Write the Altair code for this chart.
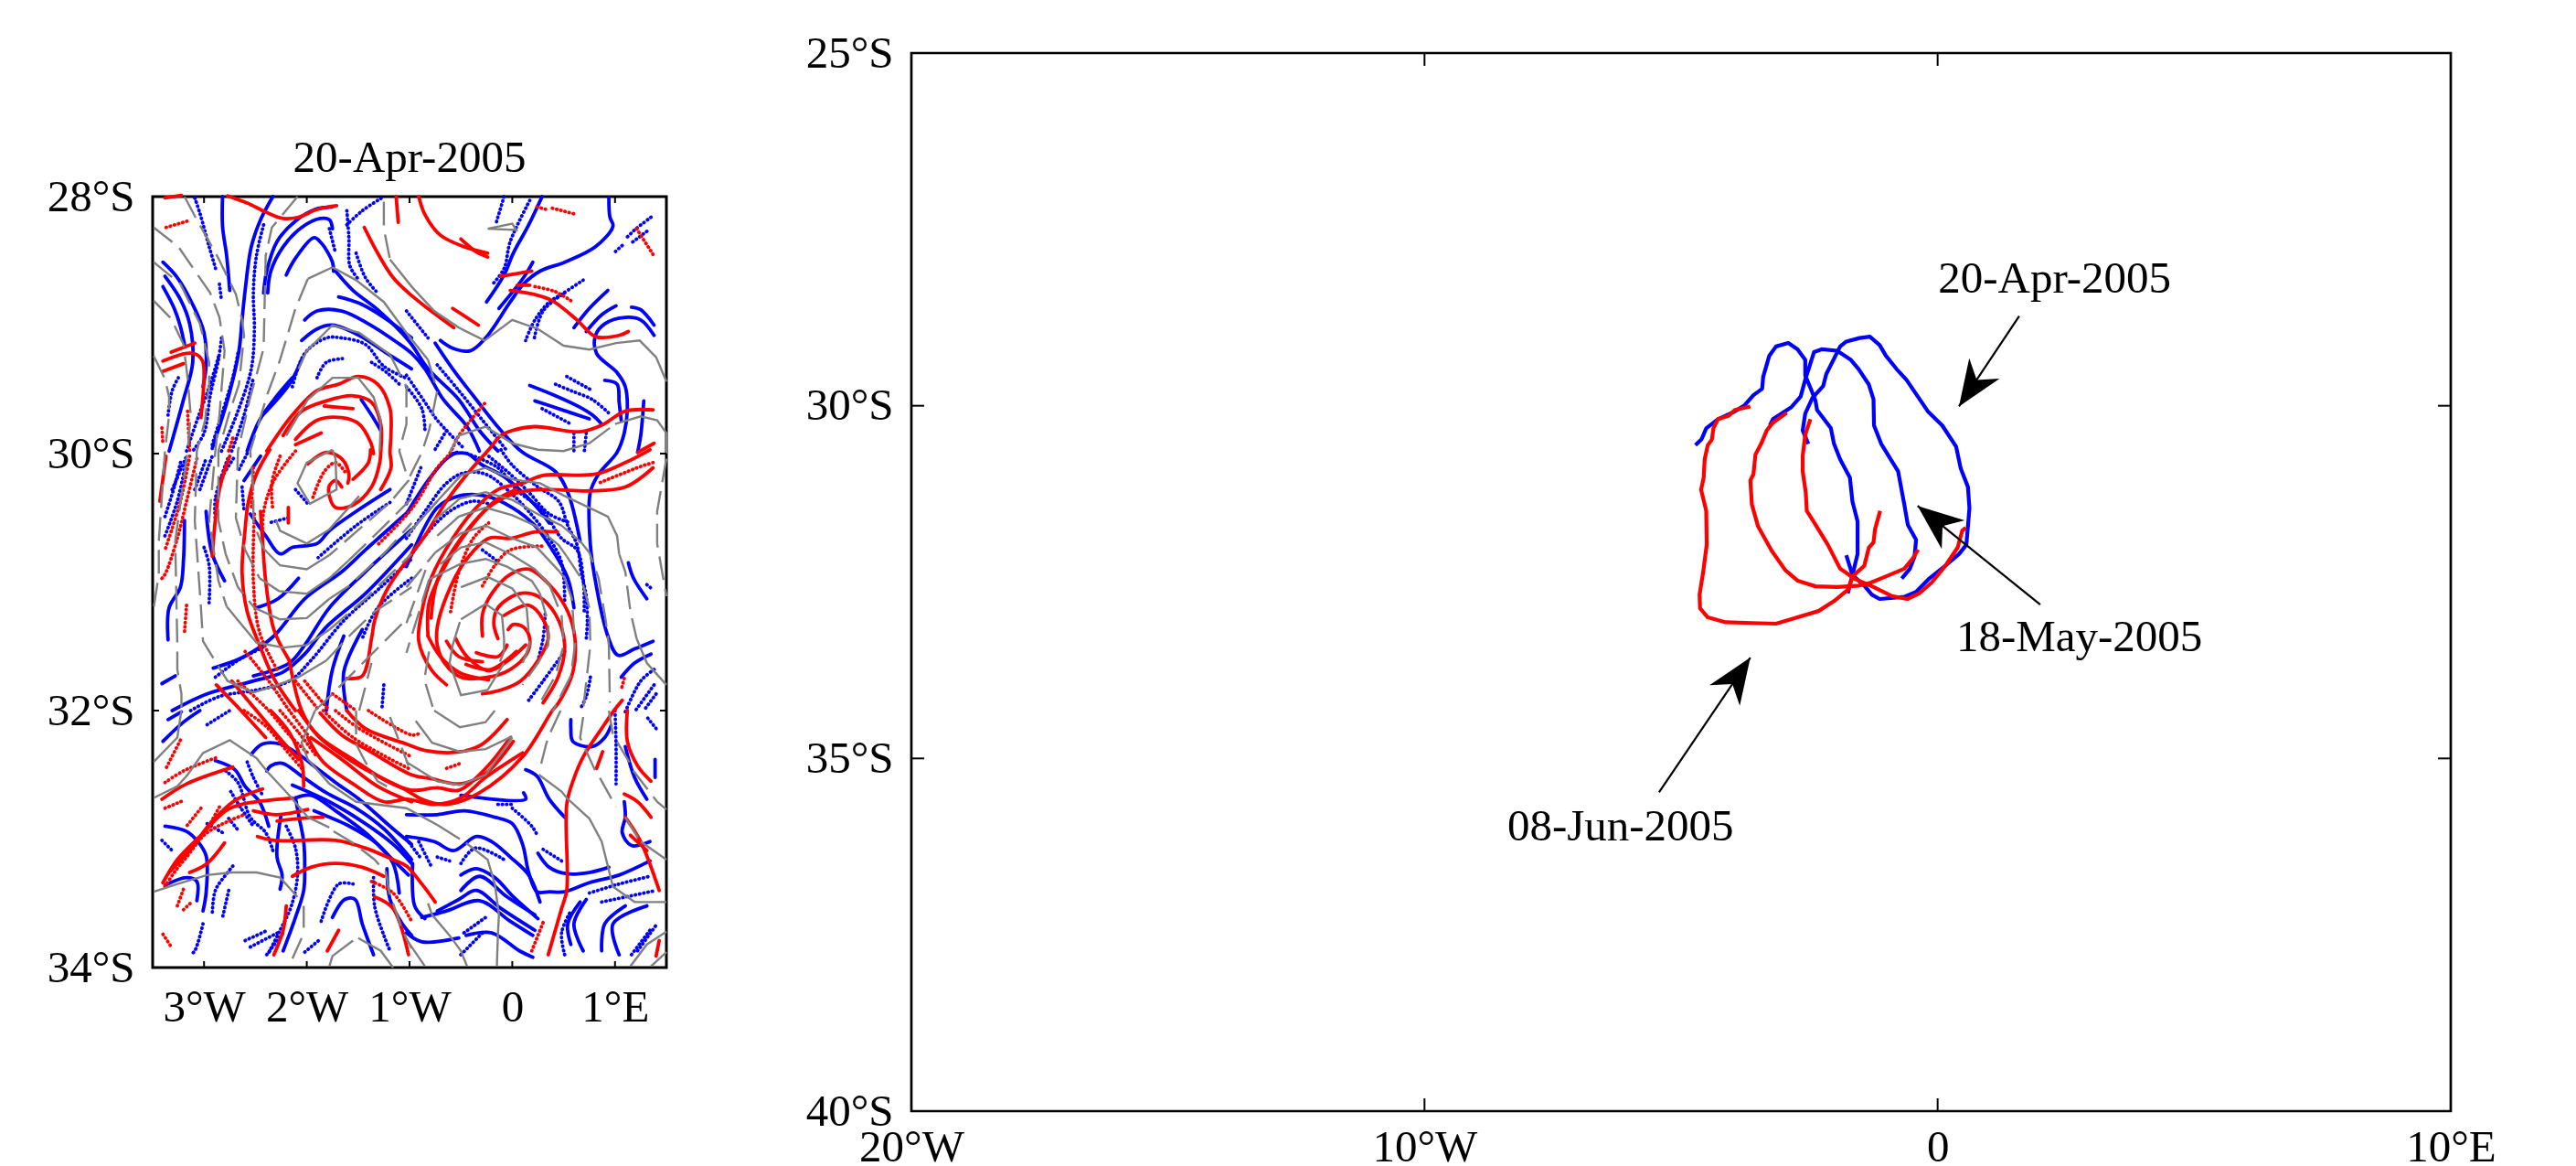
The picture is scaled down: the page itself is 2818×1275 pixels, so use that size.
import altair as alt
import pandas as pd

FONT = "Liberation Serif"
SIZE = 49

# ---------- left panel: streamlines and contours (lon, lat, lon, lat, ...) ----------
blue_solid = [
 [-2.82,-28.00,-2.82,-28.23,-2.78,-28.46,-2.75,-28.73],
 [-2.33,-28.00,-2.45,-28.18,-2.54,-28.39,-2.60,-28.73,-2.63,-28.96,-2.66,-29.20,-2.76,-29.55,-2.92,-29.96],
 [-1.75,-28.08,-1.92,-28.10,-2.11,-28.19,-2.29,-28.35,-2.39,-28.58,-2.42,-28.75],
 [-1.75,-28.25,-1.78,-28.18,-1.87,-28.17,-2.05,-28.24,-2.23,-28.39,-2.35,-28.58,-2.38,-28.75],
 [-2.20,-28.61,-2.11,-28.48,-1.93,-28.32,-1.86,-28.36,-1.75,-28.51,-1.74,-28.58],
 [-1.72,-28.58,-1.55,-28.73,-1.31,-28.88,-1.0,-29.13,-0.82,-29.34,-0.52,-29.58,-0.32,-29.82,-0.14,-29.98],
 [-1.69,-28.78,-1.49,-28.83,-1.25,-28.94,-0.98,-29.10],
 [-2.02,-28.96,-1.90,-28.89,-1.66,-28.89,-1.40,-28.99,-1.13,-29.13,-0.98,-29.22,-0.85,-29.34,-0.67,-29.58,-0.44,-29.79,-0.32,-29.98],
 [-2.05,-29.12,-1.90,-29.03,-1.75,-29.00,-1.49,-29.08,-1.22,-29.22,-0.98,-29.34],
 [-2.43,-29.70,-2.17,-29.46,-2.05,-29.27],
 [-2.58,-29.98,-2.46,-29.74,-2.29,-29.55,-2.14,-29.41],
 [-1.47,-29.58,-1.37,-29.70,-1.28,-29.82],
 [-3.40,-28.51,-3.26,-28.63,-3.11,-28.84,-3.0,-29.06,-2.98,-29.32,-3.01,-29.48],
 [-3.38,-28.62,-3.23,-28.80,-3.14,-28.99,-3.11,-29.29,-3.20,-29.58,-3.29,-29.84,-3.34,-29.98],
 [-3.40,-28.70,-3.29,-28.87,-3.23,-29.01,-3.19,-29.15],
 [0.29,-28.00,0.16,-28.22,0.01,-28.44,-0.08,-28.61,-0.25,-28.82],
 [0.20,-28.51,0.11,-28.63,-0.13,-28.87],
 [0.94,-28.01,0.95,-28.16,0.98,-28.23,0.81,-28.39,0.51,-28.51,0.27,-28.58,0.11,-28.68,-0.02,-28.82,-0.26,-29.10,-0.41,-29.20,-0.58,-29.18,-0.70,-29.12],
 [1.38,-29.08,1.25,-28.96,1.10,-28.94,0.90,-28.99,0.81,-29.08,0.82,-29.22,1.02,-29.37,1.10,-29.48,1.12,-29.65,1.09,-29.84,1.02,-29.99,0.84,-30.16,0.76,-30.30,0.76,-30.71,0.82,-31.04,0.93,-31.42,1.03,-31.57,1.19,-31.52,1.37,-31.46],
 [0.93,-28.73,0.75,-28.87,0.60,-29.02],
 [1.01,-28.85,0.87,-28.92,0.72,-29.05],
 [1.38,-29.00,1.25,-28.88,1.16,-28.86],
 [0.90,-29.43,1.02,-29.46,1.04,-29.60,1.06,-29.74],
 [0.17,-29.47,0.42,-29.55,0.66,-29.64,0.78,-29.70,0.87,-29.77],
 [0.22,-29.59,0.45,-29.65,0.75,-29.73],
 [1.28,-29.59,1.25,-29.86,1.22,-29.99],
 [-0.75,-29.14,-0.58,-29.34,-0.35,-29.58,-0.11,-29.82,0.10,-29.99,0.42,-30.14,0.54,-30.30,0.66,-30.68],
 [-0.58,-30.0,-0.44,-30.0,-0.29,-30.09,-0.08,-30.18,0.22,-30.40,0.36,-30.54],
 [-1.03,-30.47,-0.82,-30.21,-0.64,-30.04,-0.54,-29.99],
 [-1.03,-30.88,-0.73,-30.42,-0.52,-30.33,-0.26,-30.33,0,-30.42,0.22,-30.56,0.39,-30.75,0.54,-30.97,0.60,-31.20],
 [1.13,-30.85,1.18,-30.97,1.31,-31.13],
 [1.35,-31.56,1.19,-31.63,1.06,-31.74],
 [-3.19,-30.52,-3.20,-30.83,-3.23,-31.04,-3.34,-31.20,-3.35,-31.45],
 [-2.98,-30.45,-2.92,-30.78,-2.80,-30.99],
 [-2.45,-30.02,-2.61,-30.21],
 [-2.55,-30.47,-2.40,-30.64,-2.26,-30.78,-2.14,-30.73,-1.90,-30.70,-1.78,-30.60,-1.52,-30.45,-1.19,-30.28],
 [-2.49,-31.20,-2.28,-31.13,-2.08,-30.97],
 [-3.41,-31.79,-3.28,-31.73],
 [-2.91,-31.67,-2.61,-31.58,-2.32,-31.42,-2.02,-31.13,-1.66,-30.92,-1.43,-30.75,-1.01,-30.45],
 [-2.52,-31.73,-2.17,-31.63,-2.02,-31.49,-1.78,-31.20,-1.43,-30.92,-0.98,-30.59],
 [-3.31,-32.0,-2.97,-31.87,-2.52,-31.77,-2.23,-31.70,-2.02,-31.56,-1.81,-31.35,-1.43,-31.09,-0.98,-30.71],
 [-1.64,-31.42,-1.75,-31.68,-1.81,-32.0],
 [-1.46,-31.37,-1.64,-31.70,-1.61,-32.0],
 [-3.40,-32.24,-3.20,-32.09,-3.04,-32.0],
 [-3.35,-32.07,-3.22,-32.01],
 [-2.54,-32.34,-2.43,-32.26,-2.26,-32.26,-2.08,-32.34,-1.90,-32.45,-1.72,-32.56,-1.49,-32.69,-1.19,-32.90,-0.98,-33.04],
 [-2.39,-32.47,-2.35,-32.43,-2.24,-32.41,-2.05,-32.51,-1.81,-32.64,-1.52,-32.76,-1.25,-32.92,-0.98,-33.16],
 [-2.14,-32.58,-1.78,-32.71,-1.43,-32.88,-1.16,-33.04,-0.98,-33.19],
 [-2.11,-32.68,-1.96,-32.66,-1.72,-32.78,-1.43,-32.95,-1.19,-33.14,-1.01,-33.28],
 [-1.93,-32.78,-1.78,-32.83,-1.61,-32.89,-1.31,-33.04,-1.16,-33.19,-1.10,-33.42],
 [-2.11,-32.68,-2.08,-32.81,-2.03,-33.02,-2.02,-33.23,-2.03,-33.40,-2.11,-33.61,-2.23,-33.87],
 [-2.25,-32.81,-2.29,-33.14,-2.24,-33.28,-2.26,-33.39],
 [-2.89,-32.39,-2.70,-32.46,-2.60,-32.59,-2.46,-32.71,-2.37,-32.90],
 [-3.38,-32.90,-3.17,-32.94,-3.06,-33.02,-2.98,-33.13,-2.98,-33.42,-3.01,-33.56],
 [-3.38,-33.36,-3.17,-33.30,-3.07,-33.33,-3.07,-33.48],
 [-1.75,-33.61,-1.63,-33.47,-1.53,-33.47,-1.46,-33.66,-1.35,-33.90],
 [-1.22,-33.23,-1.19,-33.47,-1.07,-33.66,-0.98,-33.75],
 [-1.03,-32.98,-0.76,-33.02,-0.57,-33.09,-0.35,-32.98,-0.20,-33.02,-0.02,-33.14,0.16,-33.28,0.27,-33.49],
 [-1.03,-32.81,-0.73,-32.81,-0.47,-32.78,-0.17,-32.83,0.0,-32.88,0.10,-33.04,0.16,-33.26,0.24,-33.41,0.36,-33.41,0.51,-33.41,0.75,-33.34,1.04,-33.28,1.34,-33.17],
 [0.13,-32.46,0.24,-32.51,0.36,-32.69,0.51,-32.83],
 [0.25,-33.11,0.36,-33.22,0.53,-33.27,0.75,-33.26,0.94,-33.22],
 [-0.50,-32.66,0.13,-32.69,0.11,-32.64],
 [-0.50,-33.28,-0.35,-33.23,-0.17,-33.30,0.01,-33.45,0.25,-33.62],
 [-0.50,-33.40,-0.32,-33.29,-0.05,-33.45,0.22,-33.59],
 [-0.73,-33.56,-0.52,-33.47,-0.35,-33.40,-0.11,-33.54,0.22,-33.71],
 [-0.88,-33.61,-0.64,-33.56,-0.32,-33.48,-0.02,-33.64,0.20,-33.75],
 [-0.45,-33.75,-0.20,-33.73,0.07,-33.87,0.20,-33.92],
 [-0.97,-33.19,-0.95,-33.52,-0.85,-33.62],
 [-1.03,-33.73,-0.88,-33.80,-0.52,-33.77],
 [0.57,-33.82,0.54,-33.66,0.66,-33.49],
 [0.69,-33.87,0.60,-33.66,0.72,-33.47],
 [0.87,-33.87,0.90,-33.66,1.10,-33.52],
 [1.04,-33.90,0.98,-33.66,1.31,-33.52],
 [0.57,-32.07,0.57,-32.14,0.59,-32.24,0.78,-32.28,0.90,-32.21,0.96,-32.12],
 [1.10,-32.28,1.19,-32.52,1.31,-32.69],
 [1.39,-32.38,1.39,-32.52],
 [1.09,-32.71,1.10,-32.83,1.07,-32.95,1.16,-33.05,1.34,-33.02],
]
blue_dots = [
 [-3.09,-28.01,-3.04,-28.13,-2.95,-28.39,-2.88,-28.58],
 [-2.42,-28.22,-2.49,-28.46,-2.52,-28.75,-2.51,-29.03,-2.54,-29.34,-2.67,-29.67,-2.83,-29.98],
 [-1.78,-28.25,-1.72,-28.44],
 [-1.61,-28.11,-1.59,-28.32,-1.58,-28.54,-1.49,-28.65],
 [-1.52,-28.44,-1.43,-28.63,-1.31,-28.75],
 [-1.61,-28.22,-1.46,-28.11,-1.25,-28.00],
 [-2.14,-29.48,-2.02,-29.22,-1.81,-29.10,-1.66,-29.10,-1.43,-29.15,-1.25,-29.32,-1.04,-29.41],
 [-1.90,-29.41,-1.81,-29.29,-1.63,-29.26],
 [-1.37,-29.29,-1.22,-29.37,-1.10,-29.46],
 [-3.25,-29.41,-3.31,-29.51,-3.35,-29.70],
 [-2.83,-29.10,-2.86,-29.27,-2.94,-29.55,-3.0,-29.84,-3.11,-29.98],
 [-2.67,-29.22,-2.72,-29.41,-2.79,-29.60,-2.92,-29.93],
 [-3.17,-29.98,-3.05,-29.70,-2.94,-29.46,-2.85,-29.22],
 [-2.73,-29.98,-2.61,-29.70,-2.52,-29.41],
 [-2.85,-28.68,-2.83,-28.81],
 [-0.08,-28.00,-0.155,-28.20],
 [0.17,-28.03,-0.02,-28.35,-0.08,-28.56,-0.20,-28.69],
 [1.35,-28.16,1.19,-28.26,1.10,-28.33],
 [1.31,-28.27,1.16,-28.36],
 [1.07,-28.38,1.0,-28.43],
 [0.69,-28.65,0.48,-28.76,0.36,-28.82,0.22,-28.96,0.13,-29.12],
 [0.51,-28.75,0.30,-28.89,0.21,-29.12],
 [0.29,-29.65,0.57,-29.77],
 [0.42,-29.46,0.57,-29.51,0.78,-29.58,0.96,-29.70],
 [0.53,-29.40,0.78,-29.51],
 [0.60,-29.84,0.60,-29.99],
 [0.72,-29.84,0.70,-29.99],
 [-0.73,-29.31,-0.52,-29.51,-0.29,-29.74,-0.05,-29.98],
 [-1.03,-28.89,-0.82,-29.10],
 [-1.03,-29.39,-0.85,-29.60,-0.73,-29.74,-0.47,-29.96],
 [-1.03,-29.48,-0.88,-29.65,-0.85,-29.82],
 [-0.64,-29.82,-0.76,-29.98],
 [-0.11,-29.97,0.0,-30.09,0.25,-30.26,0.45,-30.37,0.54,-30.56,0.63,-30.71,0.67,-30.92,0.72,-31.11,0.73,-31.32,0.72,-31.44],
 [-0.26,-30.0,-0.02,-30.16,0.16,-30.30,0.36,-30.47,0.57,-30.54],
 [-0.44,-30.0,-0.14,-30.11,0.04,-30.28,0.30,-30.45,0.48,-30.66,0.63,-30.75,0.69,-30.97,0.70,-31.25],
 [-1.03,-30.39,-0.89,-30.11],
 [-1.03,-30.66,-0.85,-30.45,-0.64,-30.23,-0.47,-30.15,-0.26,-30.16,-0.05,-30.28,0.16,-30.45,0.36,-30.66,0.48,-30.85,0.51,-31.16],
 [-1.03,-30.85,-0.85,-30.64,-0.61,-30.45,-0.38,-30.37,-0.20,-30.40],
 [-0.29,-30.75,-0.14,-30.84],
 [0.32,-31.25,0.30,-31.44,0.25,-31.61],
 [0.76,-31.74,0.72,-31.89,0.66,-31.99],
 [1.31,-31.02,1.37,-31.06],
 [1.38,-31.68,1.25,-31.77,1.10,-32.01],
 [1.38,-31.80,1.19,-32.01],
 [1.40,-31.87,1.28,-32.0],
 [0.16,-31.92,0.30,-31.77,0.51,-31.54],
 [-3.38,-30.64,-3.26,-30.37,-3.17,-30.04],
 [-3.38,-30.49,-3.29,-30.26,-3.22,-30.04],
 [-3.04,-30.28,-2.92,-30.02],
 [-2.85,-30.21,-2.70,-30.02],
 [-2.58,-30.0,-2.67,-30.14],
 [-3.31,-30.28,-3.17,-30.02],
 [-3.09,-30.28,-2.98,-30.04],
 [-3.0,-30.73,-2.95,-30.87,-2.95,-31.16],
 [-2.77,-30.04,-2.89,-30.35,-2.89,-30.52],
 [-2.63,-30.26,-2.61,-30.45],
 [-2.18,-30.50,-2.37,-30.54],
 [-2.11,-30.28,-1.99,-30.39],
 [-1.89,-30.81,-1.52,-30.56,-1.19,-30.38],
 [-2.89,-31.74,-2.67,-31.61,-2.43,-31.51],
 [-3.13,-32.0,-2.85,-31.89,-2.49,-31.84,-2.17,-31.77,-1.96,-31.61,-1.64,-31.30,-1.28,-31.04,-0.98,-30.82],
 [-0.98,-30.97,-1.31,-31.20,-1.46,-31.44],
 [-1.25,-31.80,-1.27,-32.0],
 [-2.97,-32.11,-2.75,-32.0],
 [-2.20,-32.90,-2.11,-33.07,-2.09,-33.28,-2.15,-33.52,-2.26,-33.71,-2.38,-33.90],
 [-2.79,-32.47,-2.67,-32.56,-2.55,-32.83,-2.40,-32.95,-2.33,-33.09],
 [-2.58,-32.40,-2.52,-32.52,-2.43,-32.66],
 [-2.74,-32.63,-2.64,-32.76,-2.52,-32.90],
 [-2.76,-32.84,-2.66,-32.94],
 [-2.97,-32.88,-2.82,-32.95],
 [-3.41,-33.01,-3.31,-33.09],
 [-2.72,-33.21,-2.77,-33.26,-2.89,-33.40,-2.92,-33.59],
 [-2.76,-33.40,-2.82,-33.61],
 [-3.01,-33.66,-3.09,-33.87,-3.13,-33.90],
 [-2.60,-33.79,-2.38,-33.71],
 [-2.55,-33.84,-2.26,-33.72],
 [-2.39,-33.90,-2.23,-33.73],
 [-2.02,-33.88,-1.87,-33.78],
 [-1.86,-33.64,-1.69,-33.35,-1.55,-33.35],
 [-1.35,-33.30,-1.34,-33.52,-1.25,-33.75,-1.19,-33.87],
 [0.0,-32.76,0.19,-32.90,0.25,-32.98],
 [0.30,-33.08,0.48,-33.17],
 [-0.14,-32.73,0.0,-32.73],
 [-0.50,-33.19,-0.36,-33.07,-0.08,-33.16],
 [-0.47,-33.73,-0.26,-33.61],
 [-0.50,-33.90,-0.29,-33.73],
 [-0.91,-33.02,-0.79,-33.21],
 [-1.03,-33.0,-0.88,-33.16],
 [-0.73,-33.14,-0.61,-33.17],
 [0.51,-33.90,0.48,-33.73,0.57,-33.56],
 [0.75,-33.42,1.04,-33.35,1.34,-33.29],
 [0.87,-33.49,1.40,-33.40],
 [1.16,-33.90,1.34,-33.71],
 [1.22,-33.87,1.40,-33.67],
 [1.0,-32.0,1.01,-32.26,1.01,-32.57],
 [1.40,-32.14,1.31,-32.05],
]
red_solid = [
 [-3.38,-28.01,-3.22,-27.99],
 [-2.77,-27.995,-2.58,-28.05,-2.40,-28.12,-2.23,-28.17,-2.08,-28.16,-1.90,-28.10,-1.71,-28.07],
 [-1.13,-28.00,-1.11,-28.20],
 [-1.44,-28.24,-1.31,-28.44,-1.16,-28.63,-0.98,-28.77,-0.79,-28.89,-0.57,-29.02],
 [-3.32,-29.21,-3.09,-29.14],
 [-3.40,-29.28,-3.17,-29.22,-3.07,-29.23,-3.01,-29.29,-3.03,-29.72],
 [-3.40,-29.36,-3.20,-29.30],
 [-2.39,-29.98,-2.14,-29.70,-1.90,-29.51,-1.69,-29.46,-1.50,-29.40,-1.31,-29.46,-1.19,-29.65,-1.18,-29.84,-1.19,-29.99,-1.18,-30.11,-1.28,-30.28],
 [-2.23,-29.86,-2.05,-29.67,-1.81,-29.59,-1.55,-29.55,-1.37,-29.60,-1.28,-29.77,-1.28,-29.98],
 [-1.83,-29.63,-1.55,-29.65],
 [-2.11,-29.89,-1.90,-29.74,-1.66,-29.72,-1.49,-29.77,-1.38,-29.91,-1.35,-30.00],
 [-2.11,-29.93,-1.86,-29.84],
 [-2.36,-29.97,-2.49,-30.16,-2.57,-30.38,-2.60,-30.59,-2.63,-30.92,-2.58,-31.23,-2.46,-31.49,-2.32,-31.75,-2.11,-32.0],
 [-1.99,-30.08,-1.81,-29.99,-1.66,-30.04,-1.59,-30.16,-1.60,-30.23],
 [-1.66,-30.26,-1.72,-30.21,-1.78,-30.25,-1.78,-30.33,-1.72,-30.42,-1.55,-30.40,-1.37,-30.26,-1.29,-30.07,-1.28,-29.97],
 [-1.55,-30.20,-1.40,-30.07,-1.38,-29.97],
 [-2.75,-30.02,-2.85,-30.28,-2.92,-30.80],
 [-3.37,-30.02,-3.43,-30.37],
 [-2.18,-30.42,-2.18,-30.54],
 [-2.17,-31.61,-2.32,-31.37,-2.40,-30.99,-2.43,-30.68,-2.45,-30.45],
 [-1.61,-31.75,-1.46,-31.73,-1.37,-31.44,-1.34,-31.30,-1.22,-31.06,-0.98,-30.78,-0.85,-30.64,-0.64,-30.37,-0.44,-30.16,-0.23,-29.97,-0.11,-29.86,0,-29.82,0.22,-29.79,0.66,-29.83,0.87,-29.78,1.10,-29.67,1.37,-29.66],
 [-0.02,-28.73,0.21,-28.76,0.39,-28.81,0.63,-28.96,0.81,-29.09,1.04,-29.08,1.13,-29.05],
 [-0.91,-28.00,-0.85,-28.14,-0.70,-28.30,-0.47,-28.39,-0.24,-28.44],
 [-0.50,-28.33,-0.35,-28.43,-0.24,-28.47],
 [-0.11,-28.62,0.19,-28.58],
 [0.05,-28.69,0.17,-28.69],
 [-0.58,-28.87,-0.33,-29.0],
 [1.22,-29.99,1.38,-29.92],
 [1.34,-29.97,1.10,-30.07,0.81,-30.16,0.30,-30.17,0.10,-30.23,-0.14,-30.28,-0.35,-30.42,-0.58,-30.66,-0.79,-30.97,-0.88,-31.23,-0.91,-31.46,-0.79,-31.68,-0.64,-31.80],
 [1.37,-30.11,1.10,-30.26,0.75,-30.29,0.36,-30.28,0.07,-30.30,-0.20,-30.40,-0.50,-30.66,-0.73,-30.99,-0.79,-31.28],
 [-0.29,-31.42,-0.29,-31.25,-0.20,-31.09,-0.02,-30.94,0.16,-30.90,0.36,-31.02,0.54,-31.23,0.61,-31.44,0.59,-31.70,0.45,-31.94,0.39,-32.0,0.10,-32.36,-0.32,-32.64,-0.64,-32.73,-0.88,-32.69,-1.03,-32.62,-1.49,-32.43,-1.90,-32.19,-2.05,-32.0,-2.17,-31.61],
 [-0.14,-31.44,-0.18,-31.32,-0.14,-31.20,0.07,-31.09,0.25,-31.11,0.42,-31.25,0.51,-31.49,0.45,-31.73,0.30,-31.94],
 [-0.08,-31.26,0.16,-31.18,0.30,-31.29,0.35,-31.44,0.25,-31.61,0.08,-31.77,-0.11,-31.84,-0.29,-31.87],
 [-0.04,-31.37,0.01,-31.33,0.11,-31.35,0.17,-31.44,0.14,-31.56,-0.02,-31.68,-0.23,-31.74,-0.50,-31.74,-0.66,-31.63,-0.73,-31.49,-0.73,-31.35,-0.64,-31.11,-0.47,-30.85,-0.23,-30.66,-0.02,-30.66,0.22,-30.61,0.44,-30.61],
 [-0.55,-31.44,-0.44,-31.58,-0.23,-31.69,-0.04,-31.61,0.13,-31.49],
 [-0.35,-31.55,-0.14,-31.58,-0.05,-31.49],
 [-0.64,-31.46,-0.52,-31.58,-0.29,-31.62],
 [-0.45,-31.64,-0.21,-31.68,0.04,-31.54],
 [-0.82,-31.42,-0.81,-31.16,-0.67,-30.90,-0.47,-30.64,-0.17,-30.37,0.04,-30.28],
 [-0.82,-31.42,-0.70,-31.58,-0.50,-31.71,-0.23,-31.76],
 [-1.99,-32.21,-1.84,-32.40,-1.55,-32.57,-1.25,-32.71,-1.03,-32.69,-0.76,-32.73,-0.50,-32.68,-0.26,-32.52,0.10,-32.33],
 [-1.96,-32.21,-1.66,-32.38,-1.31,-32.59,-0.98,-32.71],
 [-2.08,-32.0,-1.87,-32.21,-1.55,-32.38,-1.22,-32.55,-0.98,-32.62,-0.73,-32.60,-0.52,-32.62,-0.26,-32.45,-0.02,-32.21],
 [-1.87,-32.02,-1.66,-32.19,-1.40,-32.31,-0.98,-32.50,-0.79,-32.53,-0.51,-32.57,-0.26,-32.49,0.01,-32.24],
 [-1.61,-32.0,-1.43,-32.14,-1.03,-32.26,-0.85,-32.31,-0.50,-32.32,-0.29,-32.26,-0.05,-32.07],
 [-2.88,-31.80,-2.64,-32.0,-2.40,-32.21],
 [-2.73,-31.77,-2.49,-32.0,-2.29,-32.19,-2.08,-32.38],
 [-2.35,-32.0,-2.17,-32.17,-2.05,-32.40,-2.03,-32.59],
 [-3.41,-32.69,-3.17,-32.57,-2.72,-32.44],
 [-3.40,-33.34,-3.26,-33.16,-3.03,-32.97,-2.79,-32.78,-2.64,-32.73,-2.14,-32.68],
 [-3.34,-33.26,-3.12,-33.07,-2.94,-32.88,-2.70,-32.70,-2.43,-32.61],
 [-3.14,-33.26,-2.97,-33.19,-2.80,-33.03],
 [-2.52,-32.78,-2.29,-32.81,-1.99,-32.77],
 [-2.29,-32.86,-2.08,-32.84,-1.84,-32.83],
 [-2.48,-32.98,-2.32,-33.01,-1.72,-33.01,-1.43,-33.07,-1.16,-33.16,-1.03,-33.21,-0.88,-33.35,-0.75,-33.49],
 [-2.14,-33.29,-1.96,-33.22,-1.72,-33.19,-1.46,-33.22,-1.25,-33.29],
 [-1.34,-33.45,-1.16,-33.54,-1.01,-33.90],
 [-2.20,-33.52,-2.23,-33.71,-2.32,-33.90],
 [-1.69,-33.71,-1.80,-33.87],
 [0.35,-33.90,0.48,-33.54,0.53,-33.40,0.53,-32.73,0.59,-32.55,0.69,-32.36,0.87,-32.14,0.99,-32.0,1.07,-31.92],
 [0.88,-32.32,0.82,-32.45],
 [1.12,-32.0,1.12,-32.24,1.22,-32.43,1.35,-32.55],
 [1.09,-32.65,1.22,-32.71,1.35,-32.83],
 [1.10,-32.83,1.25,-33.02,1.43,-33.40],
 [1.15,-32.97,1.31,-33.09],
 [1.43,-33.79,1.40,-33.91],
]
red_dots = [
 [-3.37,-28.24,-3.16,-28.19],
 [-3.41,-29.80,-3.40,-29.93],
 [-3.16,-29.67,-3.14,-29.98],
 [-2.72,-29.88,-2.76,-29.98],
 [0.24,-28.08,0.33,-28.10],
 [0.39,-28.09,0.63,-28.14],
 [1.21,-28.25,1.37,-28.45],
 [0.22,-28.70,0.42,-28.74,0.57,-28.81],
 [-0.27,-29.61,-0.52,-29.86,-0.61,-30.0,-0.73,-30.11,-0.97,-30.42,-1.31,-30.71],
 [1.37,-30.07,1.25,-30.10,0.84,-30.23],
 [-0.29,-31.03,-0.17,-30.87,-0.02,-30.75,0.29,-30.72],
 [-0.60,-31.23,-0.52,-30.92,-0.38,-30.66,-0.23,-30.54],
 [-1.94,-30.34,-1.83,-30.14,-1.72,-30.07,-1.63,-30.14],
 [-1.40,-32.0,-0.98,-32.19,-0.91,-32.18],
 [-2.60,-31.54,-2.37,-31.77,-2.17,-32.0,-1.99,-32.19],
 [-2.67,-31.77,-2.37,-32.0,-2.17,-32.19,-1.99,-32.33],
 [-2.26,-32.0,-2.08,-32.17,-1.90,-32.36],
 [-2.61,-32.0,-2.40,-32.12,-2.20,-32.31,-2.05,-32.45],
 [-1.72,-32.0,-1.49,-32.14,-0.98,-32.36],
 [-1.84,-32.0,-1.55,-32.21,-1.01,-32.45],
 [-2.52,-30.11,-2.54,-30.44],
 [-2.51,-30.47,-2.52,-30.99,-2.46,-31.39,-2.29,-31.68],
 [-2.11,-31.77,-1.90,-31.98],
 [-2.02,-31.77,-1.78,-32.0],
 [-1.75,-31.87,-1.52,-32.0],
 [-2.11,-29.98,-2.32,-30.21,-2.42,-30.45,-2.43,-30.68],
 [-2.26,-30.02,-2.34,-30.23,-2.33,-30.44],
 [-3.14,-30.02,-3.23,-30.37,-3.38,-30.75],
 [-3.07,-30.04,-3.17,-30.37,-3.26,-30.66,-3.38,-30.94,-3.42,-30.98],
 [-3.17,-31.18,-3.19,-31.39],
 [-3.23,-32.23,-3.37,-32.45],
 [-3.38,-32.56,-3.20,-32.47,-2.86,-32.36],
 [-3.38,-32.76,-3.20,-32.70],
 [-3.03,-32.76,-3.17,-32.90],
 [-2.85,-32.75,-2.94,-32.88],
 [-3.38,-33.37,-3.29,-33.26,-3.17,-33.14,-2.97,-32.95,-2.61,-32.81],
 [-1.37,-33.33,-1.16,-33.42,-0.98,-33.64],
 [-3.26,-33.52,-3.20,-33.39],
 [-3.20,-33.55,-3.12,-33.49],
 [-3.40,-33.74,-3.31,-33.85],
 [0.30,-33.65,0.19,-33.87],
 [-0.64,-32.45,-0.50,-32.41],
 [1.09,-31.75,1.06,-31.84],
]
gray_dash = [
 [-3.19,-28.00,-3.07,-28.18,-2.86,-28.48,-2.69,-28.76,-2.63,-28.96,-2.61,-29.08,-2.66,-29.46,-2.76,-29.70,-2.86,-29.98,-2.86,-30.52,-2.79,-30.78,-2.67,-31.04,-2.51,-31.20],
 [-3.49,-28.24,-3.25,-28.39,-2.94,-28.75,-2.85,-28.94,-2.80,-29.20,-2.85,-29.70,-2.89,-29.98,-2.95,-30.52,-2.86,-30.99,-2.78,-31.19],
 [-3.49,-28.51,-3.23,-28.68,-3.04,-28.99,-2.95,-29.29,-2.95,-29.46,-2.99,-29.74,-3.07,-29.98,-3.09,-30.52,-3.03,-31.20,-3.01,-31.46,-2.85,-31.67],
 [-3.49,-28.81,-3.32,-28.95,-3.20,-29.15,-3.16,-29.41,-3.13,-29.70,-3.16,-29.98,-3.28,-30.68,-3.26,-31.49,-3.26,-31.68,-3.22,-31.87,-3.22,-32.01],
 [-3.49,-29.24,-3.38,-29.42,-3.34,-29.56,-3.34,-29.70,-3.38,-29.98,-3.44,-30.68,-3.44,-30.94,-3.49,-31.20],
 [-2.09,-28.00,-2.34,-28.24,-2.40,-28.46,-2.42,-29.18,-2.48,-29.36,-2.55,-29.56,-2.67,-29.98,-2.69,-30.50,-2.60,-30.75,-2.46,-30.97],
 [-1.99,-28.64,-2.11,-28.87,-2.26,-29.27,-2.38,-29.53,-2.55,-29.98,-2.52,-30.28,-2.52,-30.54,-2.42,-30.74],
 [-1.25,-28.04,-1.25,-28.25,-1.19,-28.49],
 [-1.19,-29.23,-1.03,-29.48,-1.03,-29.77,-1.10,-29.98,-1.01,-30.21,-1.19,-30.38,-1.78,-30.79],
 [-0.82,-29.27,-0.73,-29.51,-0.81,-29.82,-0.88,-29.99,-1.03,-30.23],
 [-1.59,-30.83,-1.28,-30.59,-0.98,-30.35],
 [-1.78,-31.13,-1.59,-31.03,-1.25,-30.78,-0.98,-30.54],
 [-1.78,-31.37,-1.43,-31.13,-0.98,-30.78],
 [-1.81,-31.61,-1.55,-31.39,-1.34,-31.23,-0.98,-31.04],
 [-1.92,-32.0,-1.75,-31.87,-1.43,-31.61,-0.98,-31.25],
 [-1.49,-32.0,-1.37,-31.63],
 [1.04,-30.78,1.10,-30.92,1.15,-31.23,1.21,-31.44],
 [0.67,-30.69,0.75,-30.77,0.84,-30.97,0.91,-31.30,0.94,-31.49,0.95,-31.94],
 [0.53,-30.80,0.67,-30.97,0.75,-31.20,0.76,-31.49,0.69,-31.99],
 [0.51,-30.97,0.58,-31.13,0.61,-31.49,0.57,-31.73,0.39,-32.01],
 [0.36,-31.02,0.48,-31.26,0.50,-31.49,0.42,-31.73,0.27,-31.94],
 [0.27,-31.09,0.35,-31.32,0.35,-31.49,0.25,-31.63,0.10,-31.80],
 [0.14,-31.20,0.17,-31.49,0.10,-31.63],
 [-1.03,-31.32,-0.81,-30.83],
 [-0.81,-31.54,-0.85,-31.73,-0.84,-31.80,-0.76,-32.01],
 [-1.03,-31.04,-0.75,-30.77],
 [-0.81,-30.98,-1.03,-31.55],
 [-1.03,-30.64,-0.73,-30.37],
 [-0.08,-31.44,-0.08,-31.54,-0.15,-31.68],
 [1.50,-30.04,1.41,-30.45,1.41,-30.70,1.50,-31.11],
 [0.47,-32.0,0.36,-32.19,0.33,-32.26,0.27,-32.45],
 [0.69,-32.05,0.66,-32.21,0.82,-32.49,0.85,-32.52,1.01,-32.75],
 [0.94,-32.0,0.98,-32.19,1.16,-32.43,1.18,-32.47,1.41,-32.71,1.50,-32.77],
 [-1.74,-32.94,-1.55,-33.03,-1.34,-33.16,-1.23,-33.26,-1.19,-33.45],
 [-1.16,-33.50,-1.07,-33.71,-0.98,-33.85],
 [-2.03,-33.52,-2.03,-33.69],
 [-2.05,-33.77,-2.14,-33.93],
 [-1.52,-32.0,-1.52,-32.26,-1.43,-32.40,-1.31,-32.55,-1.22,-32.59],
 [-1.19,-32.05,-1.01,-32.43],
 [1.10,-32.83,1.25,-33.02],
]
gray_solid = [
 [-1.75,-28.55,-1.99,-28.64],
 [-1.75,-28.55,-1.52,-28.65,-1.25,-28.82,-1.03,-29.06,-0.82,-29.27],
 [-1.19,-28.49,-0.98,-28.70,-0.76,-28.89,-0.52,-29.02,-0.27,-29.12,0.0,-28.96,0.25,-29.03,0.50,-29.16,0.75,-29.19,1.01,-29.14,1.24,-29.12,1.40,-29.25,1.50,-29.44],
 [-2.08,-29.34,-2.0,-29.20,-1.75,-29.00,-1.49,-29.06,-1.19,-29.23],
 [-2.20,-29.86,-1.99,-29.58,-1.75,-29.41,-1.50,-29.41,-1.35,-29.56,-1.28,-29.74,-1.29,-29.98],
 [-1.75,-29.97,-2.0,-30.07,-2.09,-30.23,-1.97,-30.39,-1.71,-30.28,-1.72,-30.04,-1.75,-29.97],
 [-2.30,-30.52,-2.26,-30.60,-2.0,-30.70,-1.78,-30.59,-1.49,-30.33],
 [-2.42,-30.74,-2.26,-30.87,-2.0,-30.90,-1.78,-30.79],
 [-2.46,-30.97,-2.27,-31.07,-2.0,-31.09,-1.78,-30.97,-1.59,-30.83],
 [-2.51,-31.20,-2.26,-31.29,-2.0,-31.28,-1.78,-31.13],
 [-2.78,-31.19,-2.49,-31.47,-2.23,-31.51,-2.0,-31.49,-1.78,-31.37],
 [-2.85,-31.67,-2.77,-31.77,-2.52,-31.86,-2.32,-31.81,-2.08,-31.74,-1.81,-31.61],
 [-3.22,-32.0,-3.26,-32.21,-3.49,-32.40],
 [-0.61,-29.99,-0.52,-29.86,-0.26,-29.79,0.0,-29.92,0.25,-29.97,0.50,-29.98,0.75,-29.92,0.95,-29.80],
 [1.0,-29.77,1.25,-29.71,1.41,-29.74,1.50,-29.84,1.50,-30.0],
 [-0.24,-28.25,0.0,-28.21,0.04,-28.26,-0.24,-28.25],
 [-1.03,-30.64,-0.73,-30.37,-0.50,-30.17,-0.26,-30.11,0.0,-30.20,0.27,-30.23,0.51,-30.33,0.93,-30.49,1.02,-30.64,1.04,-30.78],
 [-0.76,-30.52,-0.51,-30.35,-0.26,-30.30,0,-30.36,0.27,-30.48,0.48,-30.56,0.67,-30.69],
 [-0.73,-30.64,-0.52,-30.49,-0.26,-30.42,0,-30.48,0.22,-30.56,0.45,-30.71,0.53,-30.80],
 [-0.75,-30.77,-0.50,-30.62,-0.26,-30.56,0,-30.66,0.24,-30.73,0.45,-30.91,0.51,-30.97],
 [-0.70,-30.86,-0.50,-30.73,-0.26,-30.69,0,-30.79,0.22,-30.90,0.36,-31.02],
 [-0.81,-30.98,-0.51,-30.86,-0.26,-30.82,-0.05,-30.88,0.19,-30.99,0.27,-31.09],
 [-0.50,-31.04,-0.24,-30.96,0,-31.05,0.14,-31.20],
 [-0.50,-31.29,-0.26,-31.17,-0.10,-31.26,-0.08,-31.44],
 [-0.51,-31.31,-0.58,-31.49,-0.61,-31.63,-0.50,-31.88,-0.24,-31.84,-0.08,-31.63],
 [-0.76,-32.0,-0.51,-32.13,-0.26,-32.09,-0.17,-32.0],
 [-0.94,-32.08,-0.78,-32.25,-0.51,-32.32,-0.26,-32.30,0,-32.20],
 [-1.03,-32.40,-0.73,-32.55,-0.51,-32.58,-0.26,-32.50,0,-32.21],
 [-1.92,-32.0,-2.05,-32.25,-1.99,-32.38,-1.78,-32.57,-1.52,-32.71,-1.03,-32.76,-0.73,-32.89,-0.51,-33.0],
 [-0.45,-33.03,-0.24,-33.16,-0.17,-33.35,-0.13,-33.59,-0.14,-33.75,-0.15,-33.99],
 [-3.49,-32.68,-3.26,-32.59,-3.16,-32.50,-3.01,-32.33,-2.75,-32.23,-2.49,-32.37,-2.39,-32.47,-2.17,-32.66,-1.99,-32.83,-1.78,-32.91],
 [-3.49,-33.41,-3.26,-33.35,-2.97,-33.28,-2.73,-33.26,-2.49,-33.26,-2.26,-33.30,-2.09,-33.45],
 [-1.78,-33.99,-1.75,-33.91,-1.55,-33.79],
 [-1.50,-33.77,-1.28,-33.87,-1.16,-34.0],
 [-0.82,-33.50,-0.78,-33.59,-0.61,-33.75,-0.50,-33.87,-0.44,-33.99],
 [-1.03,-33.78,-0.85,-33.99],
 [0.26,-32.50,0.48,-32.63,0.53,-32.68,0.75,-32.84,0.87,-33.02,0.93,-33.21,0.98,-33.37,1.19,-33.49,1.50,-33.49],
 [1.15,-33.99,1.31,-33.82,1.50,-33.72],
 [1.35,-33.99,1.50,-33.88],
 [1.25,-33.02,1.50,-33.16],
 [1.21,-31.44,1.31,-31.63,1.50,-31.80],
]

# ---------- right panel: eddy tracks (lon, lat, ...) ----------
track_blue = [
 [-4.72,-30.56,-4.60,-30.475,-4.51,-30.32,-4.28,-30.19,-3.98,-30.09,-3.77,-30.00,-3.59,-29.85,-3.42,-29.76,-3.40,-29.59,-3.28,-29.29,-3.15,-29.16,-2.91,-29.11,-2.73,-29.20,-2.58,-29.35,-2.58,-29.57,-2.46,-29.78,-2.38,-29.93,-2.35,-30.06,-2.08,-30.32,-2.02,-30.54,-1.90,-30.76,-1.71,-31.02,-1.66,-31.36,-1.56,-31.64,-1.56,-32.10,-1.66,-32.40,-1.75,-32.66],
 [-2.52,-30.54,-2.63,-30.35,-2.58,-30.11,-2.44,-29.89,-2.23,-29.72,-2.17,-29.55,-1.90,-29.16,-1.78,-29.09,-1.52,-29.04,-1.32,-29.02,-1.13,-29.14,-1.01,-29.29,-0.80,-29.48,-0.61,-29.63,-0.18,-30.09,0.09,-30.28,0.36,-30.58,0.45,-30.89,0.59,-31.15,0.62,-31.45,0.56,-31.97,0.42,-32.10,0.15,-32.27,-0.18,-32.46,-0.42,-32.64,-0.65,-32.71,-1.13,-32.74,-1.28,-32.68,-1.43,-32.55,-1.66,-32.40,-1.78,-32.12],
 [-3.27,-30.28,-3.21,-30.19,-2.85,-30.02,-2.67,-29.87,-2.58,-29.63,-2.41,-29.24,-2.26,-29.20,-1.96,-29.22,-1.69,-29.35,-1.54,-29.48,-1.34,-29.70,-1.25,-29.91,-1.24,-30.28,-1.10,-30.54,-0.77,-30.93,-0.65,-31.40,-0.58,-31.69,-0.42,-31.90,-0.45,-32.14,-0.54,-32.31,-0.70,-32.45],
]
track_red = [
 [-3.65,-30.01,-3.95,-30.06,-4.07,-30.14,-4.28,-30.19,-4.37,-30.32,-4.40,-30.48,-4.48,-30.56,-4.54,-30.76,-4.56,-31.02,-4.61,-31.19,-4.51,-31.49,-4.50,-31.97,-4.57,-32.36,-4.64,-32.68,-4.63,-32.87,-4.48,-33.00,-4.13,-33.07,-3.62,-33.08,-3.15,-33.09,-2.73,-33.00,-2.32,-32.91,-2.02,-32.77,-1.75,-32.61,-1.66,-32.42,-1.43,-32.27,-1.34,-32.01,-1.25,-31.94,-1.22,-31.75,-1.12,-31.49],
 [-2.94,-30.10,-3.21,-30.24,-3.33,-30.35,-3.44,-30.54,-3.55,-30.69,-3.59,-30.97,-3.65,-31.06,-3.62,-31.40,-3.50,-31.71,-3.24,-32.05,-2.97,-32.33,-2.73,-32.48,-2.38,-32.56,-1.96,-32.57,-1.54,-32.55,-1.31,-32.51,-1.01,-32.42,-0.65,-32.31,-0.48,-32.16,-0.38,-32.04],
 [-2.48,-30.19,-2.58,-30.41,-2.63,-30.71,-2.63,-30.93,-2.57,-31.23,-2.55,-31.49,-2.42,-31.64,-2.14,-31.97,-1.90,-32.31,-1.60,-32.46,-1.25,-32.57,-0.89,-32.70,-0.59,-32.74,-0.36,-32.66,-0.12,-32.51,0.15,-32.27,0.39,-32.01,0.48,-31.77,0.55,-31.73],
]

label_text = ["20-Apr-2005", "18-May-2005", "08-Jun-2005"]
label_lon = [2.28, 2.76, -6.18]
label_lat = [-28.40, -33.48, -36.16]
arrow_tail_lon = [1.59, 2.0, -5.43]
arrow_tail_lat = [-28.73, -32.82, -35.48]
arrow_tip_lon = [0.415, -0.39, -3.65]
arrow_tip_lat = [-30.01, -31.42, -33.57]
arrow_angle = [213.9, 308.9, 34.2]

left_xticks = [-3, -2, -1, 0, 1]
left_yticks = [-28, -30, -32, -34]
right_xticks = [-20, -10, 0, 10]
right_yticks = [-25, -30, -35, -40]

LEFT_W, LEFT_H = 562, 843
RIGHT_W, RIGHT_H = 1684, 1157


def table(lines):
    rows = []
    for i, flat in enumerate(lines):
        for k in range(0, len(flat), 2):
            rows.append({"line": i, "seq": k, "lon": flat[k], "lat": flat[k + 1]})
    return pd.DataFrame(rows)


LON_EXPR = "datum.value < 0 ? abs(datum.value) + '°W' : (datum.value > 0 ? datum.value + '°E' : '0')"
LAT_EXPR = "abs(datum.value) + '°S'"


def scales(xdom, ydom, xvals, yvals, xpad, ypad):
    x = alt.X("lon:Q", scale=alt.Scale(domain=xdom, nice=False, zero=False),
              axis=alt.Axis(values=xvals, labelExpr=LON_EXPR, title=None, grid=False, domain=False,
                            ticks=False, labelFont=FONT, labelFontSize=SIZE, labelColor="black",
                            labelPadding=xpad, labelOverlap=False, labelFlush=False, labelAngle=0))
    y = alt.Y("lat:Q", scale=alt.Scale(domain=ydom, nice=False, zero=False),
              axis=alt.Axis(values=yvals, labelExpr=LAT_EXPR, title=None, grid=False, domain=False,
                            ticks=False, labelFont=FONT, labelFontSize=SIZE, labelColor="black",
                            labelPadding=ypad, labelOverlap=False, labelFlush=False))
    return x, y


def lines(df, x, y, interp="linear", **mark):
    return alt.Chart(df).mark_line(interpolate=interp, **mark).encode(
        x=x, y=y, detail="line:N", order="seq:Q")


def ticks(xvals, yvals, w, h, size, width):
    xd = pd.DataFrame({"lon": xvals})
    yd = pd.DataFrame({"lat": yvals})
    xe = alt.X("lon:Q")
    ye = alt.Y("lat:Q")
    return [
        alt.Chart(xd).mark_rule(color="black", strokeWidth=width).encode(x=xe, y=alt.value(0), y2=alt.value(size)),
        alt.Chart(xd).mark_rule(color="black", strokeWidth=width).encode(x=xe, y=alt.value(h - size), y2=alt.value(h)),
        alt.Chart(yd).mark_rule(color="black", strokeWidth=width).encode(y=ye, x=alt.value(0), x2=alt.value(size)),
        alt.Chart(yd).mark_rule(color="black", strokeWidth=width).encode(y=ye, x=alt.value(w - size), x2=alt.value(w)),
    ]


lx, ly = scales([-3.5, 1.5], [-34, -28], left_xticks, left_yticks, 19, 20)
DOT = dict(interp="catmull-rom", strokeDash=[0.5, 4.2], strokeCap="round", strokeWidth=3.8)
SOLID = dict(interp="catmull-rom", strokeWidth=3.8, strokeCap="round", strokeJoin="round")
left = alt.layer(
    lines(table(blue_solid), lx, ly, color="#0000ff", **SOLID),
    lines(table(blue_dots), lx, ly, color="#0000ff", **DOT),
    lines(table(red_solid), lx, ly, color="#ff0000", **SOLID),
    lines(table(red_dots), lx, ly, color="#ff0000", **DOT),
    lines(table(gray_dash), lx, ly, color="#808080", strokeWidth=2.4, strokeDash=[26, 10]),
    lines(table(gray_solid), lx, ly, color="#808080", strokeWidth=2.4),
    *ticks(left_xticks, left_yticks, LEFT_W, LEFT_H, 7, 2),
).properties(
    width=LEFT_W, height=LEFT_H,
    view=alt.ViewBackground(stroke="black", strokeWidth=3),
    title=alt.TitleParams("20-Apr-2005", font=FONT, fontSize=SIZE, fontWeight="normal", color="black", offset=-7),
)

rx, ry = scales([-20, 10], [-40, -25], right_xticks, right_yticks, 15, 20)
ann = pd.DataFrame({"text": label_text, "lon": label_lon, "lat": label_lat})
tip = pd.DataFrame({"lon": arrow_tip_lon, "lat": arrow_tip_lat, "angle": arrow_angle})
shaft_rows = [[arrow_tail_lon[i], arrow_tail_lat[i], arrow_tip_lon[i], arrow_tip_lat[i]] for i in range(3)]
right = alt.layer(
    lines(table(track_blue), rx, ry, color="#0000ff", strokeWidth=4.2, strokeJoin="round"),
    lines(table(track_red), rx, ry, color="#ff0000", strokeWidth=4.2, strokeJoin="round"),
    lines(table(shaft_rows), rx, ry, color="black", strokeWidth=2.2),
    alt.Chart(tip).mark_point(shape="M0,0L0.4,1L0,0.7L-0.4,1Z", filled=True, size=10000, color="black",
                              opacity=1, strokeWidth=0).encode(x=rx, y=ry, angle=alt.Angle("angle:Q", scale=None)),
    alt.Chart(ann).mark_text(font=FONT, fontSize=SIZE, align="center", baseline="alphabetic", color="black").encode(
        x=rx, y=ry, text="text:N"),
    *ticks(right_xticks, right_yticks, RIGHT_W, RIGHT_H, 14, 2),
).properties(
    width=RIGHT_W, height=RIGHT_H,
    view=alt.ViewBackground(stroke="black", strokeWidth=2.7),
)

chart = alt.hconcat(left, right, spacing=268, bounds="flush", center=True).properties(
    padding={"left": 41, "top": 24, "right": 4, "bottom": 6},
).configure(background="white")

chart.save("out.html", embed_options={"renderer": "svg", "actions": False})
